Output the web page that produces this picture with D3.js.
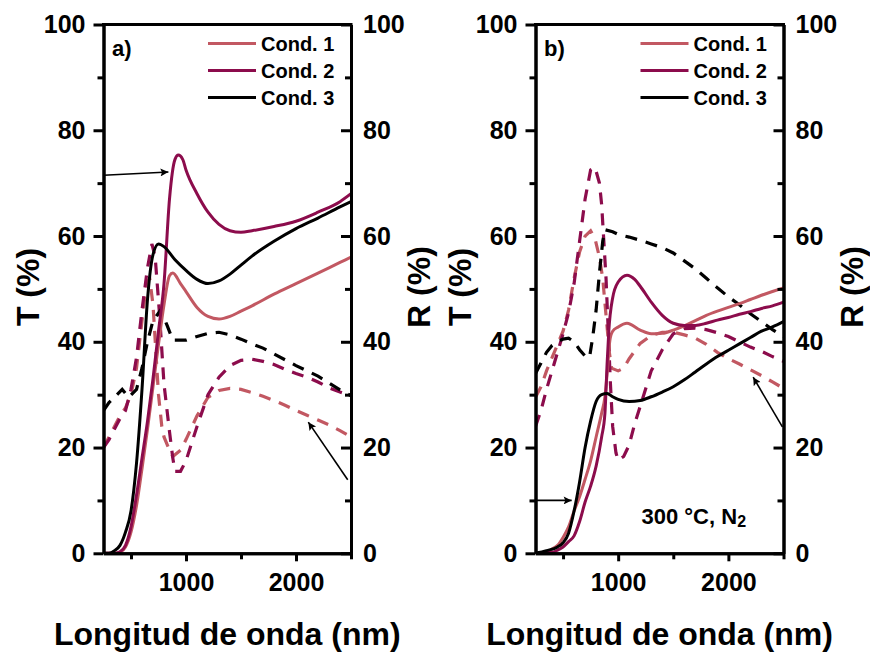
<!DOCTYPE html>
<html>
<head>
<meta charset="utf-8">
<script src="https://cdn.jsdelivr.net/npm/d3@7"></script>
<style>
  body { margin: 0; background: #fff; }
  svg { display: block; font-family: "Liberation Sans", Arial, sans-serif; font-weight: bold; }
</style>
</head>
<body>
<div id="chart"></div>
<script>
// ---- data: [wavelength nm, %] ----
const condNames = ['Cond. 1', 'Cond. 2', 'Cond. 3'];
const condColors = ['#c25862', '#8c0c4c', '#000000'];

// panel a) transmittance
const aT1 = [[250,0],[350,0],[400,0.2],[450,1.2],[500,4],[550,9],[600,16],[650,23.5],[700,31.5],[750,39.5],[800,47],[850,52.5],[880,53],[950,51],[1000,49.5],[1100,46.5],[1200,44.8],[1300,44.3],[1400,44.8],[1500,45.8],[1600,46.8],[1800,49],[2000,51],[2200,53],[2400,55],[2500,56]];
const aT2 = [[250,0],[350,0],[400,0.3],[450,1.5],[500,5],[550,11],[600,18],[650,25],[700,33],[750,42],[800,51],[850,67],[900,74.5],[930,75.3],[970,74.5],[1000,72.5],[1100,68],[1200,64.5],[1300,62.2],[1400,61],[1500,60.7],[1600,61],[1800,61.8],[2000,62.8],[2200,64.5],[2400,66.5],[2500,68]];
const aT3 = [[250,0],[300,0],[350,0.5],[400,1.5],[450,4],[500,8],[550,17],[600,31],[650,48],[700,56.5],[750,58.5],[800,58],[900,55.5],[1000,53.5],[1100,51.8],[1200,51],[1300,51.5],[1400,52.8],[1500,54.5],[1600,56.2],[1800,59],[2000,61.4],[2200,63.4],[2400,65.5],[2500,66.5]];
// panel a) reflectance
const aR1 = [[250,20],[300,22],[350,24],[400,26],[450,27.5],[500,30],[550,35],[600,44],[640,51],[670,52],[700,47],[750,30],[780,24],[800,22],[850,19.5],[880,18.3],[950,19.5],[1000,21.5],[1100,26],[1200,29.5],[1300,30.8],[1400,31.2],[1500,31],[1600,30.4],[1700,29.7],[1800,28.9],[1900,28],[2000,27],[2100,26.1],[2200,25.2],[2300,24.3],[2400,23.2],[2500,22]];
const aR2 = [[250,20],[300,21.5],[350,23.5],[400,25.5],[450,27],[500,31],[550,37],[600,46],[650,54],[690,58.5],[720,56],[760,45],[800,32],[850,23],[880,18],[900,15.5],[950,15.5],[1000,17.5],[1100,24],[1200,30],[1300,33.3],[1400,35.5],[1500,36.5],[1600,36.7],[1700,36.3],[1800,35.7],[1900,34.8],[2000,34],[2100,33.3],[2200,32.4],[2300,31.3],[2400,30.5],[2500,29.8]];
const aR3 = [[250,27],[300,28.5],[350,29.5],[420,31],[480,29.5],[550,31],[600,35],[650,40],[700,44],[770,46],[830,43],[880,40.3],[1000,40.3],[1100,41],[1200,41.6],[1300,41.8],[1400,41.3],[1500,40.5],[1600,39.6],[1700,38.8],[1800,37.7],[1900,36.6],[2000,35.5],[2100,34.5],[2200,33.5],[2300,32.2],[2400,30.9],[2500,29.8]];

// panel b) transmittance
const bT1 = [[250,0],[350,0.2],[400,0.8],[450,1.5],[500,3],[550,5],[600,8],[650,10.7],[700,14],[750,17.5],[800,22],[850,26.5],[880,29.6],[900,34],[925,40.3],[950,42],[1000,42.8],[1080,43.5],[1200,42.2],[1300,41.5],[1400,41.6],[1500,42.2],[1600,43],[1700,44],[1800,45],[1900,45.8],[2000,46.5],[2100,47.2],[2200,48],[2300,48.8],[2400,49.5],[2500,50.2]];
const bT2 = [[250,0],[400,0.2],[450,0.6],[500,1.2],[550,2.2],[600,3.3],[650,6],[700,9.7],[750,12.7],[800,16.5],[850,22],[880,26.5],[900,36],[915,42],[950,48.3],[1000,51.3],[1080,52.6],[1150,51.8],[1200,50.5],[1300,47.5],[1400,45],[1500,43.5],[1600,43.1],[1700,43.1],[1800,43.5],[1900,44.1],[2000,44.6],[2100,45.2],[2200,45.7],[2300,46.3],[2400,46.8],[2500,47.5]];
const bT3 = [[250,0],[350,0.5],[450,1.2],[500,2],[550,3.8],[600,8],[650,13.5],[700,20],[750,25],[800,28.7],[850,30],[900,30.2],[950,29.6],[1000,29.1],[1100,28.7],[1200,28.9],[1300,29.6],[1400,30.5],[1500,31.5],[1600,32.8],[1700,34.3],[1800,35.8],[1900,37.2],[2000,38.4],[2100,39.6],[2200,40.8],[2300,42],[2400,42.8],[2500,43.8]];
// panel b) reflectance
const bR1 = [[250,29.5],[300,31.5],[350,34.5],[400,37],[450,39.5],[500,42],[550,46],[600,52],[650,57],[700,60],[750,61],[790,59.5],[830,56],[860,52],[890,45],[920,38],[940,35],[1000,34.5],[1050,35],[1100,36.8],[1200,39.7],[1300,41.2],[1400,41.8],[1500,41.8],[1600,41.3],[1700,40.7],[1800,39.5],[1900,38],[2000,36.8],[2100,35.8],[2200,34.7],[2300,33.6],[2400,32.4],[2500,31.2]];
const bR2 = [[250,24],[300,27],[350,31],[400,34.5],[450,38],[500,41.5],[550,45.5],[600,51],[650,59],[700,67],[750,72.5],[790,73],[830,70],[850,66],[870,59],[890,52],[910,42],[930,32],[950,24],[980,19],[1000,17.6],[1050,18.3],[1100,20.5],[1150,24.5],[1200,27.8],[1300,34.5],[1400,38.5],[1500,41.5],[1600,42.5],[1700,42.6],[1800,42.3],[1900,41.7],[2000,41],[2100,40],[2200,39],[2300,38.2],[2400,37.2],[2500,36.3]];
const bR3 = [[250,34],[300,36],[350,38],[400,39.3],[450,40],[500,40.5],[550,40.7],[600,40],[650,38.5],[700,37.3],[740,37],[770,41],[800,46],[830,53],[860,59],[880,61.2],[950,60.8],[1000,60.3],[1100,59.8],[1200,59.2],[1300,58.5],[1400,57.8],[1500,56.8],[1600,55.3],[1700,53.8],[1800,52],[1900,50.2],[2000,48.5],[2100,47],[2200,45.3],[2300,43.8],[2400,42.3],[2500,41]];

const xTicks = [1000, 2000];
const xMinor = [500, 1500, 2500];
const yTicks = [0, 20, 40, 60, 80, 100];
const yMinor = [10, 30, 50, 70, 90];

// arrows [x1, y1, x2, y2] in data units
const aArrows = [[250, 71.5, 840, 72.1], [2470, 13.9, 2112, 24.8]];
const bArrows = [[250, 10, 578, 10], [2490, 23.9, 2225, 33.3]];

const panels = [
  { tag: 'a)', left: 103.5, right: 351, T: [aT1, aT2, aT3], R: [aR1, aR2, aR3], arrows: aArrows, note: false },
  { tag: 'b)', left: 535.5, right: 783.5, T: [bT1, bT2, bT3], R: [bR1, bR2, bR3], arrows: bArrows, note: true }
];

const W = 870, H = 653, plotTop = 24.5, plotBottom = 553.3;
const svg = d3.select('#chart').append('svg').attr('width', W).attr('height', H);
const defs = svg.append('defs');

defs.append('marker')
  .attr('id', 'arrow').attr('viewBox', '0 0 10 10')
  .attr('refX', 10).attr('refY', 5)
  .attr('markerWidth', 12).attr('markerHeight', 8).attr('markerUnits', 'userSpaceOnUse')
  .attr('orient', 'auto')
  .append('path').attr('d', 'M0,0L10,5L0,10L2,5Z').attr('fill', '#000');

panels.forEach(function (p, i) {
  const x = d3.scaleLinear().domain([250, 2500]).range([p.left, p.right]);
  const y = d3.scaleLinear().domain([0, 100]).range([plotBottom, plotTop]);
  const g = svg.append('g');

  const clipId = 'clip' + i;
  defs.append('clipPath').attr('id', clipId)
    .append('rect').attr('x', p.left).attr('y', plotTop).attr('width', p.right - p.left).attr('height', plotBottom - plotTop);

  const plot = g.append('g').attr('clip-path', 'url(#' + clipId + ')');
  const lineT = d3.line().x(d => x(d[0])).y(d => y(d[1])).curve(d3.curveMonotoneX);
  const lineR = d3.line().x(d => x(d[0])).y(d => y(d[1])).curve(d3.curveLinear);

  p.R.forEach(function (s, k) {
    plot.append('path').attr('d', lineR(s)).attr('fill', 'none')
      .attr('stroke', condColors[k]).attr('stroke-width', 3.2)
      .attr('stroke-dasharray', '12,9');
  });
  p.T.forEach(function (s, k) {
    plot.append('path').attr('d', lineT(s)).attr('fill', 'none')
      .attr('stroke', condColors[k]).attr('stroke-width', 3)
      .attr('stroke-linejoin', 'round');
  });

  // axes
  function style(sel) {
    sel.select('.domain').attr('stroke-width', 3);
    sel.selectAll('line').attr('stroke-width', 3);
    sel.selectAll('text').attr('font-size', 25).attr('font-weight', 'bold').attr('fill', '#000')
      .attr('font-family', '"Liberation Sans", Arial, sans-serif');
  }
  g.append('g').attr('transform', 'translate(' + p.left + ',0)')
    .call(d3.axisLeft(y).tickValues(yMinor).tickSize(6).tickFormat('').tickSizeOuter(0)).call(style);
  g.append('g').attr('transform', 'translate(' + p.left + ',0)')
    .call(d3.axisLeft(y).tickValues(yTicks).tickSize(10).tickPadding(8).tickSizeOuter(0)).call(style);
  g.append('g').attr('transform', 'translate(' + p.right + ',0)')
    .call(d3.axisRight(y).tickValues(yMinor).tickSize(-6).tickFormat('').tickSizeOuter(0)).call(style);
  g.append('g').attr('transform', 'translate(' + p.right + ',0)')
    .call(d3.axisRight(y).tickValues(yTicks).tickSize(-10).tickPadding(12).tickSizeOuter(0)).call(style);
  g.append('g').attr('transform', 'translate(0,' + plotBottom + ')')
    .call(d3.axisBottom(x).tickValues(xMinor).tickSize(6).tickFormat('').tickSizeOuter(0)).call(style);
  g.append('g').attr('transform', 'translate(0,' + plotBottom + ')')
    .call(d3.axisBottom(x).tickValues(xTicks).tickSize(8).tickPadding(12).tickFormat(d3.format('d')).tickSizeOuter(0)).call(style);
  g.append('line').attr('x1', p.left - 1.5).attr('x2', p.right + 1.5).attr('y1', plotTop).attr('y2', plotTop)
    .attr('stroke', '#000').attr('stroke-width', 3);

  // axis titles
  const cx = (p.left + p.right) / 2;
  g.append('text').attr('x', cx).attr('y', 645).attr('text-anchor', 'middle')
    .attr('font-size', 32).text('Longitud de onda (nm)');
  g.append('text').attr('transform', 'translate(' + (p.left - 65) + ',287) rotate(-90)')
    .attr('text-anchor', 'middle').attr('font-size', 32).text('T (%)');
  g.append('text').attr('transform', 'translate(' + (p.right + 79) + ',287) rotate(-90)')
    .attr('text-anchor', 'middle').attr('font-size', 32).text('R (%)');

  // panel tag
  g.append('text').attr('x', p.left + 8.5).attr('y', 56).attr('font-size', 22).text(p.tag);

  // legend
  condNames.forEach(function (name, k) {
    const ly = 43.5 + k * 27;
    g.append('line').attr('x1', p.right - 143).attr('x2', p.right - 95)
      .attr('y1', ly).attr('y2', ly).attr('stroke', condColors[k]).attr('stroke-width', 3);
    g.append('text').attr('x', p.right - 90).attr('y', ly + 7.5).attr('font-size', 20).text(name);
  });

  // arrows
  p.arrows.forEach(function (a) {
    g.append('line').attr('x1', x(a[0])).attr('y1', y(a[1])).attr('x2', x(a[2])).attr('y2', y(a[3]))
      .attr('stroke', '#000').attr('stroke-width', 1.6).attr('marker-end', 'url(#arrow)');
  });

  if (p.note) {
    const t = g.append('text').attr('x', p.left + 106).attr('y', 524).attr('font-size', 22);
    t.append('tspan').text('300 °C, N');
    t.append('tspan').attr('font-size', 16).attr('dy', 3).text('2');
  }
});
</script>
</body>
</html>
